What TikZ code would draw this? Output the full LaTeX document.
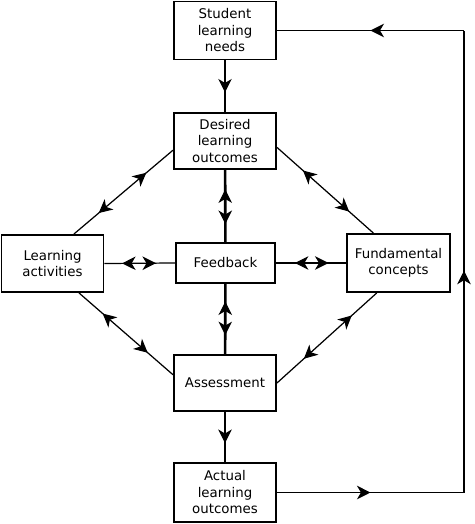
\documentclass[tikz,border=0pt]{standalone}
\usepackage{fontspec}
\setmainfont{DejaVu Sans}
\usetikzlibrary{arrows.meta,decorations.markings,positioning,calc}
\tikzstyle{stagebox}=[draw=black,line width=1.1pt,rectangle,align=center,inner sep=0pt,minimum width=2.04cm,font=\fontsize{7.6}{9.4}\selectfont]
\tikzstyle{thinlink}=[line width=0.7pt,black]
\tikzstyle{thicklink}=[line width=1.5pt,black]
\tikzset{
  twoway/.style={postaction={decorate},decoration={markings,
      mark=at position 0.27 with {\arrowreversed[line width=0.6pt]{Stealth[length=0.27cm,width=0.27cm,inset=0.08cm]}},
      mark=at position 0.75 with {\arrow[line width=0.6pt]{Stealth[length=0.27cm,width=0.27cm,inset=0.08cm]}}}},
  oneway/.style={postaction={decorate},decoration={markings,
      mark=at position #1 with {\arrow[line width=0.6pt]{Stealth[length=0.27cm,width=0.27cm,inset=0.08cm]}}}},
}

\begin{document}
\begin{tikzpicture}[x=0.02cm,y=-0.02cm]
\def\loopx{464}
    \useasboundingbox (0,0) rectangle (474,524);

    % middle column
    \node[stagebox, minimum height=1.16cm] (stud) at (225,30.5) {Student\\learning\\needs};
    \node[stagebox, minimum height=1.12cm] (des) at (225,141) {Desired\\learning\\outcomes};
    \node[stagebox, minimum height=0.8cm, minimum width=1.98cm] (feed) at (225.5,263) {Feedback};
    \node[stagebox, minimum height=1.12cm] (assess) at (225,383) {Assessment};
    \node[stagebox, minimum height=1.18cm] (actual) at (225,492.5) {Actual\\learning\\outcomes};

    % sides
    \node[stagebox, minimum height=1.14cm] (learn) at (52.5,263.5) {Learning\\activities};
    \node[stagebox, minimum height=1.16cm, minimum width=2.06cm] (fund) at (398.5,263) {Fundamental\\concepts};

    \coordinate (loop) at (\loopx,0);

    \draw[thicklink, oneway=0.62] (stud) -- (des);
    \draw[thicklink, oneway=0.62] (assess) -- (actual);
    \draw[thicklink, twoway] (des) -- (feed);
    \draw[thicklink, twoway] (assess) -- (feed);

    \draw[thinlink, twoway] (feed.west) -- (learn.east);
    \draw[thinlink, twoway] (feed.east) -- (fund.west);

    \draw[thinlink, twoway] (des.190) -- (learn.54);
    \draw[thinlink, twoway] (des.353) -- (fund.130);
    \draw[thinlink, twoway] (assess.171) -- (learn.-48);
    \draw[thinlink, twoway] (assess.east) -- (fund.234);

    % loop back
    \draw[thinlink, oneway=0.5] (actual.east) -- (actual.east -| loop);
    \draw[thinlink, oneway=0.48] (actual.east -| loop) -- (stud.east -| loop);
    \draw[thinlink, oneway=0.5] (stud.east -| loop) -- (stud.east);
\end{tikzpicture}
\end{document}
